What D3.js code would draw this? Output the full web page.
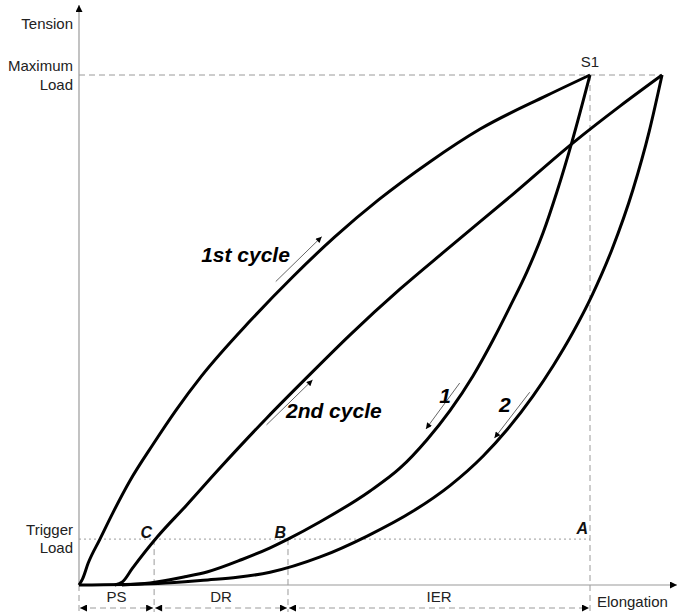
<!DOCTYPE html>
<html>
<head>
<meta charset="utf-8">
<script src="https://cdn.jsdelivr.net/npm/d3@7"></script>
<style>
  body { margin: 0; background: #fff; }
  text { font-family: "Liberation Sans", Arial, sans-serif; }
</style>
</head>
<body>
<div id="chart"></div>
<script>
// elongation / tension in relative units (S1 = 100, max load = 100)
var load1 = [[0,0],[0.7,1.2],[1.8,4.3],[4.1,9],[6.7,14.3],[10,20.5],[14.5,27.6],[19,34.3],[24,41],
  [33.5,51.8],[41.9,60.5],[50,68.2],[58.6,75.5],[68.7,83],[78.5,89.4],[91.6,96],[100,100]];
var unload1 = [[8.4,0],[13.9,0.4],[20.7,1.6],[25.2,2.6],[31.9,5],[37.4,7.3],[40.9,9],[47.2,12.4],[56.9,18.4],
  [62.8,22.9],[68.1,28.5],[72.6,34.2],[77.1,41],[81,48],[84.3,54.5],[87.7,61.5],[90.8,69],[93.5,77],
  [96.5,87],[100,100]];
var load2 = [[7,0],[8.5,0.6],[10.4,3.2],[15.3,9.4],[21,15.6],[27,22.3],[36.8,32.8],[45.2,41.3],[53,49],
  [62.8,58],[72,65.8],[84.9,76.6],[96.8,86.8],[106,94],[114.1,100]];
var unload2 = [[0,0],[15.5,0.3],[25.2,1],[31,1.5],[37.4,2.5],[47.2,5.5],[56.4,9.6],[65.4,14.5],[72.6,19.5],
  [79.1,25.3],[83.8,30.5],[88.8,37],[92.8,43],[96.7,49.6],[100.4,56.8],[104.3,65.8],[108.4,77.5],[111.6,89],[114.1,100]];

var maxLoad = 100, triggerLoad = 9;
var pointC = 14.7, pointB = 40.9, pointA = 100, peak2 = 114.1;
var ranges = [["PS", 0, pointC], ["DR", pointC, pointB], ["IER", pointB, pointA]];
var marks = [["C", pointC], ["B", pointB], ["A", pointA]];

// direction arrows: [x1, y1, x2, y2]
var dirArrows = [[38.5,59.5,47.5,68.3],[36.7,31.4,45.7,40.2],[74.5,39.6,67.9,30.6],[88.2,37.8,81.3,28.8]];
var dirLabels = [["1st cycle",23.9,63.3],["2nd cycle",40.5,32.7],["1",70.5,35.7],["2",82.2,33.9]];

var W = 679, H = 614;
var x = d3.scaleLinear().domain([0, 100]).range([79, 590]);
var y = d3.scaleLinear().domain([0, 100]).range([585, 75]);

var svg = d3.select("#chart").append("svg")
    .attr("width", W)
    .attr("height", H);

var defs = svg.append("defs");
defs.append("marker")
    .attr("id", "head")
    .attr("viewBox", "0 0 10 10")
    .attr("refX", 10).attr("refY", 5)
    .attr("markerWidth", 10).attr("markerHeight", 7)
    .attr("markerUnits", "userSpaceOnUse")
    .attr("orient", "auto-start-reverse")
    .append("path").attr("d", "M0,0L10,5L0,10z").attr("fill", "#000");
defs.append("marker")
    .attr("id", "small")
    .attr("viewBox", "0 0 10 10")
    .attr("refX", 10).attr("refY", 5)
    .attr("markerWidth", 8).attr("markerHeight", 6)
    .attr("markerUnits", "userSpaceOnUse")
    .attr("orient", "auto")
    .append("path").attr("d", "M0,0L10,5L0,10z").attr("fill", "#000");

// guide lines
var gray = "#9a9a9a";
svg.append("line")
    .attr("x1", x(0)).attr("x2", x(peak2)).attr("y1", y(maxLoad)).attr("y2", y(maxLoad))
    .attr("stroke", gray).attr("stroke-dasharray", "6,4");
svg.append("line")
    .attr("x1", x(0)).attr("x2", x(pointA)).attr("y1", y(triggerLoad)).attr("y2", y(triggerLoad))
    .attr("stroke", gray).attr("stroke-dasharray", "2,3");
svg.append("line")
    .attr("x1", x(pointA)).attr("x2", x(pointA)).attr("y1", y(maxLoad)).attr("y2", 612)
    .attr("stroke", gray).attr("stroke-dasharray", "6,4");
svg.selectAll(".vdash")
    .data([pointC, pointB])
    .enter().append("line")
    .attr("x1", function(d){ return x(d); })
    .attr("x2", function(d){ return x(d); })
    .attr("y1", y(triggerLoad)).attr("y2", 612)
    .attr("stroke", gray).attr("stroke-dasharray", "6,4");
svg.append("line")
    .attr("x1", x(0)).attr("x2", x(0)).attr("y1", y(0)).attr("y2", 612)
    .attr("stroke", gray).attr("stroke-dasharray", "6,4");

// axes
svg.append("line")
    .attr("x1", x(0)).attr("x2", x(0)).attr("y1", y(0)).attr("y2", 5)
    .attr("stroke", gray).attr("stroke-width", 1.2)
    .attr("marker-end", "url(#head)");
svg.append("line")
    .attr("x1", x(0)).attr("x2", 677).attr("y1", y(0)).attr("y2", y(0))
    .attr("stroke", gray).attr("stroke-width", 1.2)
    .attr("marker-end", "url(#head)");

// range arrows
svg.selectAll(".range")
    .data(ranges)
    .enter().append("line")
    .attr("x1", function(d){ return x(d[1]) + 1; })
    .attr("x2", function(d){ return x(d[2]) - 1; })
    .attr("y1", 608).attr("y2", 608)
    .attr("stroke", gray).attr("stroke-dasharray", "6,4")
    .attr("marker-start", "url(#head)")
    .attr("marker-end", "url(#head)");
svg.selectAll(".rangeText")
    .data(ranges)
    .enter().append("text")
    .attr("x", function(d){ return (x(d[1]) + x(d[2])) / 2; })
    .attr("y", 602)
    .attr("text-anchor", "middle")
    .attr("font-size", 15)
    .attr("fill", "#222")
    .text(function(d){ return d[0]; });

// curves
var line = d3.line()
    .x(function(d){ return x(d[0]); })
    .y(function(d){ return y(d[1]); })
    .curve(d3.curveMonotoneX);
svg.selectAll(".curve")
    .data([load1, unload1, load2, unload2])
    .enter().append("path")
    .attr("d", line)
    .attr("fill", "none")
    .attr("stroke", "#000")
    .attr("stroke-width", 3)
    .attr("stroke-linejoin", "round");

// direction arrows and labels
svg.selectAll(".dir")
    .data(dirArrows)
    .enter().append("line")
    .attr("x1", function(d){ return x(d[0]); })
    .attr("y1", function(d){ return y(d[1]); })
    .attr("x2", function(d){ return x(d[2]); })
    .attr("y2", function(d){ return y(d[3]); })
    .attr("stroke", "#666").attr("stroke-width", 1)
    .attr("marker-end", "url(#small)");
svg.selectAll(".dirText")
    .data(dirLabels)
    .enter().append("text")
    .attr("x", function(d){ return x(d[1]); })
    .attr("y", function(d){ return y(d[2]); })
    .attr("font-size", 21)
    .attr("font-weight", "bold")
    .attr("font-style", "italic")
    .attr("fill", "#000")
    .text(function(d){ return d[0]; });

// point labels C, B, A
svg.selectAll(".mark")
    .data(marks)
    .enter().append("text")
    .attr("x", function(d){ return x(d[1]) - 2; })
    .attr("y", function(d){ return d[0] == "A" ? y(triggerLoad) - 5 : y(triggerLoad) - 1; })
    .attr("text-anchor", "end")
    .attr("font-size", 16)
    .attr("font-weight", "bold")
    .attr("font-style", "italic")
    .attr("fill", "#111")
    .text(function(d){ return d[0]; });

svg.append("text")
    .attr("x", x(pointA)).attr("y", y(maxLoad) - 8)
    .attr("text-anchor", "middle").attr("font-size", 15).attr("fill", "#222")
    .text("S1");

// axis labels
var leftLabels = [["Tension", 29], ["Maximum", y(maxLoad) - 4], ["Load", y(maxLoad) + 15],
  ["Trigger", y(triggerLoad) - 4], ["Load", y(triggerLoad) + 14]];
svg.selectAll(".left")
    .data(leftLabels)
    .enter().append("text")
    .attr("x", 73)
    .attr("y", function(d){ return d[1]; })
    .attr("text-anchor", "end")
    .attr("font-size", 15)
    .attr("fill", "#222")
    .text(function(d){ return d[0]; });
svg.append("text")
    .attr("x", 597).attr("y", 607)
    .attr("font-size", 15).attr("fill", "#222")
    .text("Elongation");
</script>
</body>
</html>
